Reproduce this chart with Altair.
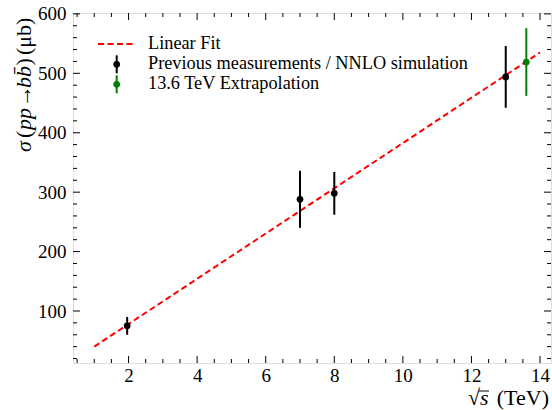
import altair as alt
import pandas as pd

# ---- data ----
sqrt_s = [1.96, 7.0, 8.0, 13.0]
sigma = [75, 288, 298, 494]
sigma_err = [15, 48, 36, 52]

extrap_x = [13.6]
extrap_y = [519]
extrap_err = [57]

fit_x = [1.0, 14.0]
fit_y = [40, 535]

x_major = [2, 4, 6, 8, 10, 12, 14]
y_major = [100, 200, 300, 400, 500, 600]
x_minor = [v / 2 for v in range(1, 29) if v % 4 != 0]
y_minor = [v for v in range(20, 601, 20) if v % 100 != 0]

W, H = 478, 350
FONT = "Liberation Serif"
FS_TICK = 19
FS_LEG = 18.3
FS_TITLE = 22

xs = alt.Scale(domain=[0.38, 14.32], nice=False, zero=False)
ys = alt.Scale(domain=[12.5, 601.5], nice=False, zero=False)

xaxis = alt.Axis(values=x_major, ticks=False, domain=False, grid=False, title=None,
                 labelFont=FONT, labelFontSize=FS_TICK, labelColor="black", labelPadding=3)
yaxis = alt.Axis(values=y_major, ticks=False, domain=False, grid=False, title=None,
                 labelFont=FONT, labelFontSize=FS_TICK, labelColor="black", labelPadding=7)

def X(f="x"):
    return alt.X(f"{f}:Q", scale=xs, axis=xaxis)

def Y(f="y"):
    return alt.Y(f"{f}:Q", scale=ys, axis=yaxis)

meas = pd.DataFrame({"x": sqrt_s, "y": sigma,
                     "lo": [a - b for a, b in zip(sigma, sigma_err)],
                     "hi": [a + b for a, b in zip(sigma, sigma_err)]})
extr = pd.DataFrame({"x": extrap_x, "y": extrap_y,
                     "lo": [a - b for a, b in zip(extrap_y, extrap_err)],
                     "hi": [a + b for a, b in zip(extrap_y, extrap_err)]})
fit = pd.DataFrame({"x": fit_x, "y": fit_y})

fit_line = alt.Chart(fit).mark_line(color="#ff0000", strokeWidth=2, strokeDash=[6, 3.5]).encode(x=X(), y=Y())

def errpts(df, color):
    bars = alt.Chart(df).mark_rule(color=color, strokeWidth=2).encode(
        x=X(), y=Y("lo"), y2="hi:Q")
    pts = alt.Chart(df).mark_circle(color=color, opacity=1, size=45).encode(x=X(), y=Y())
    return [bars, pts]

# inward ticks on all four sides
xt_major = pd.DataFrame({"x": x_major})
xt_minor = pd.DataFrame({"x": x_minor})
yt_major = pd.DataFrame({"y": y_major})
yt_minor = pd.DataFrame({"y": y_minor})

tick_layers = []
for df, L in [(xt_major, 7), (xt_minor, 4)]:
    tick_layers.append(alt.Chart(df).mark_rule(color="black", strokeWidth=1).encode(
        x=X(), y=alt.value(H), y2=alt.value(H - L)))
    tick_layers.append(alt.Chart(df).mark_rule(color="black", strokeWidth=1).encode(
        x=X(), y=alt.value(0), y2=alt.value(L)))
for df, L in [(yt_major, 7), (yt_minor, 4)]:
    tick_layers.append(alt.Chart(df).mark_rule(color="black", strokeWidth=1).encode(
        y=Y(), x=alt.value(0), x2=alt.value(L)))
    tick_layers.append(alt.Chart(df).mark_rule(color="black", strokeWidth=1).encode(
        y=Y(), x=alt.value(W), x2=alt.value(W - L)))

# legend
one = pd.DataFrame({"k": [0]})
leg = []
leg.append(alt.Chart(one).mark_rule(color="#ff0000", strokeWidth=2, strokeDash=[6, 3.5]).encode(
    x=alt.value(25), x2=alt.value(62), y=alt.value(31)))
for yc, col in [(51.3, "black"), (71.3, "#008000")]:
    leg.append(alt.Chart(one).mark_rule(color=col, strokeWidth=2).encode(
        x=alt.value(43.7), y=alt.value(yc - 9), y2=alt.value(yc + 9)))
    leg.append(alt.Chart(one).mark_circle(color=col, opacity=1, size=45).encode(
        x=alt.value(43.7), y=alt.value(yc)))
for yc, txt in [(31, "Linear Fit"), (51.3, "Previous measurements / NNLO simulation"),
                (71.3, "13.6 TeV Extrapolation")]:
    leg.append(alt.Chart(one).mark_text(text=txt, font=FONT, fontSize=FS_LEG, align="left",
                                        baseline="middle", color="black").encode(
        x=alt.value(75), y=alt.value(yc)))

# axis titles (mixed italic via segments)
titles = []
ysegs = [("σ", "italic", 139), ("(", "normal", 125), ("pp", "italic", 117),
         ("→", "normal", 94), ("bb\u0304", "italic", 75), (")", "normal", 52.5),
         ("(μb)", "normal", 42)]
for t, st, yy in ysegs:
    titles.append(alt.Chart(one).mark_text(text=t, font=FONT, fontSize=FS_TITLE, fontStyle=st,
                                           angle=270, align="left", baseline="alphabetic",
                                           color="black").encode(
        x=alt.value(-42), y=alt.value(yy)))
titles.append(alt.Chart(one).mark_text(text="√", font=FONT, fontSize=FS_TITLE, align="right",
                                       baseline="alphabetic", color="black").encode(
    x=alt.value(407), y=alt.value(392)))
titles.append(alt.Chart(one).mark_text(text="s", font=FONT, fontSize=FS_TITLE, fontStyle="italic",
                                       align="left", baseline="alphabetic", color="black").encode(
    x=alt.value(407), y=alt.value(392)))
titles.append(alt.Chart(one).mark_text(text="(TeV)", font=FONT, fontSize=FS_TITLE, align="right",
                                       baseline="alphabetic", color="black").encode(
    x=alt.value(476), y=alt.value(392)))
titles.append(alt.Chart(one).mark_rule(color="black", strokeWidth=1).encode(
    x=alt.value(406), x2=alt.value(416), y=alt.value(378)))

layers = [fit_line] + errpts(meas, "black") + errpts(extr, "#008000") + tick_layers + leg + titles

chart = alt.layer(*layers).properties(
    width=W, height=H,
    autosize=alt.AutoSizeParams(type="none"),
    padding={"left": 73, "top": 13, "right": 1, "bottom": 47},
).configure_view(stroke="black", strokeWidth=1.2).configure(background="white")

chart.save("out.html", embed_options={"renderer": "svg", "actions": False})
